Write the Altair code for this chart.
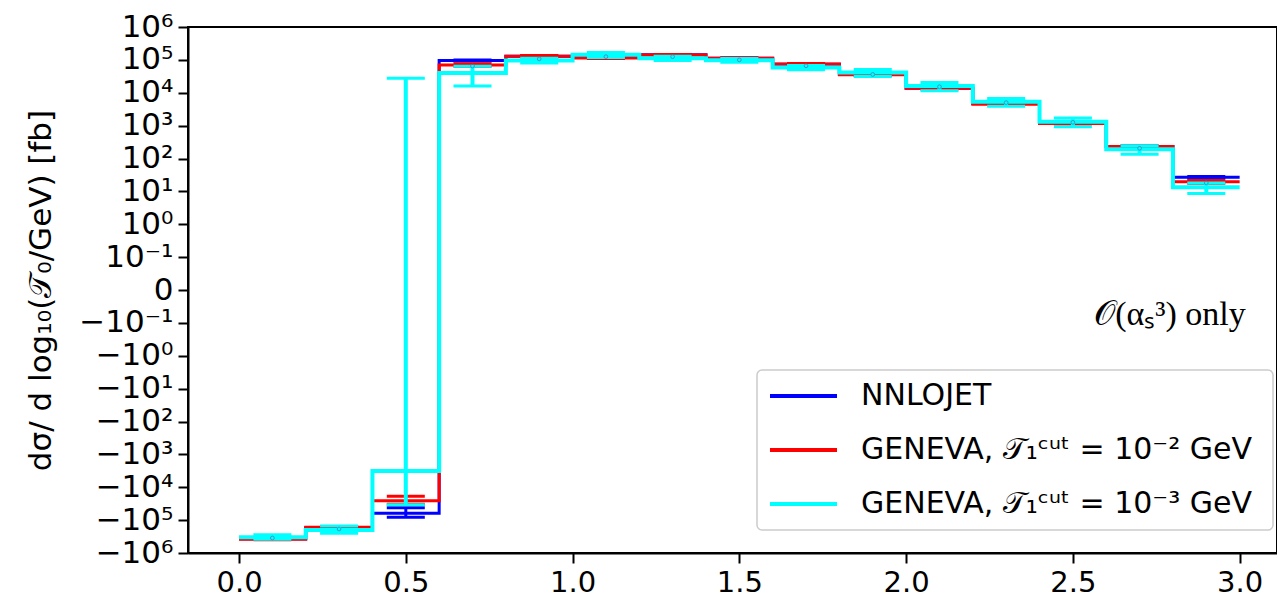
import json
import altair as alt
import pandas as pd

# ---------------- data ----------------
edges = [0.0, 0.2, 0.4, 0.6, 0.8, 1.0, 1.2, 1.4, 1.6, 1.8, 2.0, 2.2, 2.4, 2.6, 2.8, 3.0]
centers = [0.1, 0.3, 0.5, 0.7, 0.9, 1.1, 1.3, 1.5, 1.7, 1.9, 2.1, 2.3, 2.5, 2.7, 2.9]

series_names = [
    "NNLOJET",
    "GENEVA,  𝒯₁ᶜᵘᵗ = 10⁻² GeV",
    "GENEVA,  𝒯₁ᶜᵘᵗ = 10⁻³ GeV",
]
series_colors = ["#0000ff", "#ff0000", "#00ffff"]

nnlojet = [-3.7e5, -1.7e5, -6.2e4, 9.6e4, 1.28e5, 1.18e5, 1.42e5, 1.12e5, 7.4e4, 3.6e4,
           1.38e4, 4.7e3, 1.2e3, 2.3e2, 27]
nnlojet_err = [1e4, 8e3, 2e4, 4e3, 3e3, 3e3, 3e3, 3e3, 2e3, 1e3, 4e2, 1.5e2, 4e1, 8, 1.5]

geneva2 = [-3.8e5, -1.66e5, -2.57e4, 7.0e4, 1.3e5, 1.15e5, 1.4e5, 1.12e5, 7.5e4, 3.5e4,
           1.36e4, 4.5e3, 1.17e3, 2.3e2, 19.6]
geneva2_err = [1.5e4, 1e4, 7e3, 6e3, 5e3, 5e3, 5e3, 4e3, 3e3, 1.5e3, 6e2, 2e2, 5e1, 1e1, 2]

geneva3 = [-3.3e5, -2.0e5, -3.2e3, 4.0e4, 9.6e4, 1.43e5, 1.12e5, 9.7e4, 5.9e4, 4.1e4,
           1.6e4, 5.3e3, 1.32e3, 1.9e2, 13.3]
geneva3_err = [5e4, 5e4, 3.1e4, 2.4e4, 1.6e4, 2.5e4, 1.7e4, 1.3e4, 9e3, 1.0e4,
               4.5e3, 1.4e3, 4e2, 5.5e1, 4.7]

marker_x = [0.1, 0.3, 0.7, 0.9, 1.1, 1.3, 1.5, 1.7, 1.9, 2.1, 2.3, 2.5, 2.7, 2.9]
marker_vals = [-3.5e5, -1.86e5, 6.5e4, 1.07e5, 1.25e5, 1.25e5, 1.0e5, 6.6e4, 3.6e4,
               1.52e4, 5.0e3, 1.26e3, 2.04e2, 18.2]

xtick_values = [0.0, 0.5, 1.0, 1.5, 2.0, 2.5, 3.0]
ytick_labels = ["−10⁶", "−10⁵", "−10⁴", "−10³", "−10²", "−10¹", "−10⁰", "−10⁻¹", "0",
                "10⁻¹", "10⁰", "10¹", "10²", "10³", "10⁴", "10⁵", "10⁶"]

y_title = "dσ/ d log₁₀(𝒯₀/GeV) [fb]"
note_text = "𝒪(αₛ³) only"

# ---------------- tables ----------------
vals = [nnlojet, geneva2, geneva3]
errs = [nnlojet_err, geneva2_err, geneva3_err]

step_rows, err_rows = [], []
for name, v, e in zip(series_names, vals, errs):
    ext = v + [v[-1]]
    for x, y in zip(edges, ext):
        step_rows.append({"series": name, "edge": x, "val": y})
    for c, y, d in zip(centers, v, e):
        err_rows.append({"series": name, "center": c, "val": y, "err": d})
step_df = pd.DataFrame(step_rows)
err_df = pd.DataFrame(err_rows)
mark_df = pd.DataFrame({"x": marker_x, "val": marker_vals})


def symlog(f):
    # symmetric log: linear for |v| < 0.1, one decade per unit outside
    return (f"(abs(datum.{f}) < 0.1 ? datum.{f} * 10 : "
            f"(datum.{f} < 0 ? -1 : 1) * (log(abs(datum.{f})) / LN10 + 2))")


CAP = 0.057
FONT = "DejaVu Sans"

xscale = alt.Scale(domain=[-0.153, 3.112], nice=False, zero=False)
yscale = alt.Scale(domain=[-8, 8], nice=False, zero=False)
xaxis = alt.Axis(values=xtick_values, format=".1f", title=None, labelFontSize=29,
                 labelPadding=5)
yaxis = alt.Axis(values=list(range(-8, 9)),
                 labelExpr=json.dumps(ytick_labels, ensure_ascii=False) + "[datum.value + 8]",
                 title=y_title, titleFontSize=31, titleFontWeight="normal",
                 labelFontSize=31, labelPadding=5, titlePadding=21)
cscale = alt.Scale(domain=series_names, range=series_colors)
legend = alt.Legend(orient="none", legendX=569, legendY=343, title=None,
                    symbolType="stroke", symbolSize=4489, symbolStrokeWidth=4,
                    labelFontSize=30, labelFont=FONT, labelLimit=700, labelOffset=22,
                    padding=11, clipHeight=30, rowPadding=24,
                    strokeColor="#cccccc", cornerRadius=5,
                    fillColor="white")


def X(f):
    return alt.X(f, type="quantitative", scale=xscale, axis=xaxis)


def Y(f):
    return alt.Y(f, type="quantitative", scale=yscale, axis=yaxis)


def C():
    return alt.Color("series:N", scale=cscale, legend=legend)


layers = []
widths = [3, 3, 4]
for name, w in zip(series_names, widths):
    sd = alt.Chart(step_df).transform_filter(alt.datum.series == name).transform_calculate(t=symlog("val"))
    line = sd.mark_line(interpolate="step-after", strokeWidth=w, strokeJoin="miter").encode(
        x=X("edge"), y=Y("t"), color=C())
    ed = (alt.Chart(err_df).transform_filter(alt.datum.series == name)
          .transform_calculate(lo="datum.val - datum.err", hi="datum.val + datum.err")
          .transform_calculate(tlo=symlog("lo"), thi=symlog("hi"),
                               cl=f"datum.center - {CAP}", cr=f"datum.center + {CAP}"))
    vbar = ed.mark_rule(strokeWidth=w).encode(x=X("center"), y=Y("tlo"), y2="thi", color=C())
    cap_lo = ed.mark_rule(strokeWidth=3).encode(x=X("cl"), x2="cr", y=Y("tlo"), color=C())
    cap_hi = ed.mark_rule(strokeWidth=3).encode(x=X("cl"), x2="cr", y=Y("thi"), color=C())
    layers += [line, vbar, cap_lo, cap_hi]

markers = (alt.Chart(mark_df).transform_calculate(t=symlog("val"))
           .mark_point(shape="circle", filled=False, size=14, strokeWidth=1, color="#4a7fb5", opacity=0.8)
           .encode(x=X("x"), y=Y("t")))
layers.append(markers)

note = (alt.Chart(pd.DataFrame({"label": [note_text]}))
        .mark_text(font="Liberation Serif", fontSize=34, align="center", baseline="middle", color="black")
        .encode(x=alt.value(982), y=alt.value(288), text="label:N"))
layers.append(note)

chart = (alt.layer(*layers)
         .properties(width=1089, height=526,
                     autosize=alt.AutoSizeParams(type="none"),
                     padding={"left": 188, "top": 27, "right": 0, "bottom": 53})
         .configure(font=FONT)
         .configure_axis(grid=False, domainColor="black", domainWidth=2, tickColor="black",
                         tickWidth=2, tickSize=10, labelColor="black", titleColor="black",
                         labelFont=FONT, titleFont=FONT)
         .configure_legend(strokeWidth=1.5)
         .configure_view(stroke="black", strokeWidth=2))

chart.save("out.html", embed_options={"renderer": "svg", "actions": False})
